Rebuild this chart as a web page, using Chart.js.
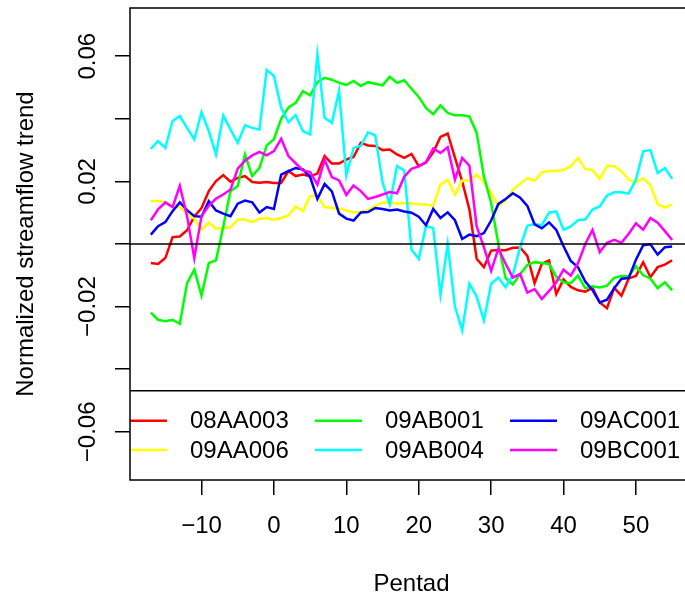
<!DOCTYPE html>
<html><head><meta charset="utf-8">
<script src="https://cdn.jsdelivr.net/npm/chart.js@4"></script>
<style>
html,body{margin:0;padding:0;background:#fff;overflow:hidden;width:685px;height:600px}
#wrap{width:720px;height:600px;position:relative}
canvas{display:block}
</style></head>
<body><div id="wrap"><canvas id="c" width="720" height="600"></canvas></div>
<script>
// Pentads (x categories)
const pentads = [-17,-16,-15,-14,-13,-12,-11,-10,-9,-8,-7,-6,-5,-4,-3,-2,-1,0,1,2,3,4,5,6,7,8,9,10,11,12,13,14,15,16,17,18,19,20,21,22,23,24,25,26,27,28,29,30,31,32,33,34,35,36,37,38,39,40,41,42,43,44,45,46,47,48,49,50,51,52,53,54,55];

const s08AA003 = [-0.0061,-0.0064,-0.0045,0.0022,0.0024,0.0044,0.0088,0.0115,0.0169,0.0201,0.0220,0.0199,0.0211,0.0217,0.0198,0.0196,0.0198,0.0195,0.0195,0.0233,0.0217,0.0222,0.0217,0.0225,0.0281,0.0257,0.0257,0.0270,0.0278,0.0323,0.0315,0.0313,0.0300,0.0302,0.0286,0.0275,0.0288,0.0249,0.0260,0.0293,0.0342,0.0353,0.0276,0.0200,0.0110,-0.0047,-0.0074,-0.0021,-0.0019,-0.0020,-0.0012,-0.0011,-0.0038,-0.0125,-0.0063,-0.0053,-0.0160,-0.0113,-0.0137,-0.0148,-0.0152,-0.0140,-0.0187,-0.0205,-0.0140,-0.0165,-0.0110,-0.0102,-0.0058,-0.0106,-0.0074,-0.0066,-0.0052];

const s09AA006 = [0.0137,0.0137,0.0133,0.0122,0.0117,0.0099,0.0081,0.0045,0.0069,0.0049,0.0051,0.0053,0.0078,0.0078,0.0070,0.0081,0.0083,0.0077,0.0083,0.0091,0.0120,0.0105,0.0153,0.0153,0.0118,0.0115,0.0113,0.0107,0.0101,0.0102,0.0108,0.0122,0.0132,0.0133,0.0129,0.0131,0.0129,0.0127,0.0126,0.0122,0.0190,0.0205,0.0157,0.0203,0.0203,0.0222,0.0198,0.0164,0.0121,0.0139,0.0173,0.0192,0.0211,0.0202,0.0229,0.0233,0.0233,0.0237,0.0248,0.0275,0.0240,0.0236,0.0208,0.0249,0.0249,0.0233,0.0206,0.0196,0.0210,0.0188,0.0127,0.0116,0.0126];

const s09AB001 = [-0.0219,-0.0242,-0.0247,-0.0242,-0.0255,-0.0125,-0.0082,-0.0165,-0.0061,-0.0052,0.0055,0.0169,0.0185,0.0286,0.0217,0.0243,0.0315,0.0335,0.0400,0.0436,0.0451,0.0488,0.0475,0.0517,0.0531,0.0525,0.0515,0.0508,0.0521,0.0505,0.0517,0.0512,0.0507,0.0534,0.0515,0.0523,0.0496,0.0470,0.0435,0.0415,0.0443,0.0419,0.0411,0.0411,0.0408,0.0355,0.0216,0.0131,0.0000,-0.0109,-0.0129,-0.0097,-0.0067,-0.0058,-0.0061,-0.0064,-0.0105,-0.0122,-0.0125,-0.0101,-0.0141,-0.0135,-0.0139,-0.0133,-0.0108,-0.0102,-0.0103,-0.0071,-0.0100,-0.0110,-0.0141,-0.0122,-0.0148];

const s09AB004 = [0.0304,0.0329,0.0307,0.0393,0.0409,0.0371,0.0334,0.0421,0.0361,0.0286,0.0411,0.0366,0.0323,0.0379,0.0371,0.0366,0.0556,0.0537,0.0435,0.0389,0.0412,0.0361,0.0350,0.0606,0.0403,0.0387,0.0489,0.0219,0.0307,0.0313,0.0357,0.0347,0.0197,0.0127,0.0249,0.0235,-0.0018,-0.0048,0.0057,0.0051,-0.0162,0.0000,-0.0200,-0.0276,-0.0127,-0.0168,-0.0244,-0.0127,-0.0107,-0.0138,-0.0098,-0.0010,0.0058,0.0064,0.0060,0.0100,0.0104,0.0045,0.0056,0.0076,0.0078,0.0110,0.0120,0.0155,0.0165,0.0165,0.0161,0.0206,0.0296,0.0300,0.0227,0.0243,0.0208];

const s09AC001 = [0.0030,0.0057,0.0070,0.0105,0.0133,0.0108,0.0089,0.0087,0.0137,0.0107,0.0097,0.0089,0.0129,0.0139,0.0133,0.0101,0.0118,0.0112,0.0222,0.0233,0.0243,0.0238,0.0214,0.0144,0.0192,0.0168,0.0097,0.0081,0.0075,0.0101,0.0102,0.0115,0.0112,0.0107,0.0110,0.0104,0.0100,0.0087,0.0060,0.0112,0.0083,0.0101,0.0076,0.0016,0.0030,0.0025,0.0035,0.0075,0.0128,0.0144,0.0162,0.0148,0.0122,0.0063,0.0050,0.0069,0.0045,-0.0007,-0.0054,-0.0074,-0.0120,-0.0147,-0.0187,-0.0178,-0.0141,-0.0111,-0.0109,-0.0050,-0.0004,-0.0001,-0.0034,-0.0010,-0.0008];

const s09BC001 = [0.0076,0.0111,0.0133,0.0118,0.0186,0.0089,-0.0045,0.0089,0.0122,0.0145,0.0158,0.0174,0.0241,0.0266,0.0283,0.0294,0.0283,0.0297,0.0336,0.0281,0.0258,0.0235,0.0230,0.0190,0.0269,0.0214,0.0203,0.0157,0.0187,0.0169,0.0144,0.0150,0.0158,0.0166,0.0162,0.0215,0.0240,0.0248,0.0262,0.0305,0.0291,0.0309,0.0206,0.0275,0.0250,0.0056,-0.0010,-0.0086,-0.0015,-0.0063,-0.0107,-0.0096,-0.0155,-0.0144,-0.0176,-0.0150,-0.0122,-0.0082,-0.0101,-0.0061,0.0000,0.0045,-0.0026,0.0004,0.0013,0.0004,0.0033,0.0066,0.0046,0.0083,0.0068,0.0041,0.0013];

const seriesNames = ['08AA003','09AA006','09AB001','09AB004','09AC001','09BC001'];
const seriesValues = [s08AA003, s09AA006, s09AB001, s09AB004, s09AC001, s09BC001];
const seriesColors = ['#FF0000','#FFFF00','#00FF00','#00FFFF','#0000FF','#FF00FF'];

const xTickValues = [-10,0,10,20,30,40,50];
const yTickValues = [-0.06,-0.04,-0.02,0,0.02,0.04,0.06];
const yLabelValues = [-0.06,-0.02,0.02,0.06];

const FONT = "'Liberation Sans', Arial, Helvetica, sans-serif";
Chart.defaults.font.family = FONT;
Chart.defaults.color = '#000';

function fmt(v){
  const s = String(Math.abs(v));
  return v < 0 ? '\u2212' + s : s;
}

const decorPlugin = {
  id: 'decor',
  afterDatasetsDraw(chart){
    const ctx = chart.ctx;
    const a = chart.chartArea;
    const ys = chart.scales.y;
    ctx.save();
    // zero line
    ctx.strokeStyle = '#000';
    ctx.lineWidth = 1.5;
    const y0 = ys.getPixelForValue(0);
    ctx.beginPath(); ctx.moveTo(a.left, y0); ctx.lineTo(a.right, y0); ctx.stroke();
    // legend
    const legTop = 390.7;
    ctx.fillStyle = '#fff';
    ctx.fillRect(a.left, legTop, a.right - a.left, a.bottom - legTop);
    ctx.beginPath(); ctx.moveTo(a.left, legTop); ctx.lineTo(a.right, legTop); ctx.stroke();
    ctx.beginPath(); ctx.rect(a.left, a.top, a.right - a.left, a.bottom - a.top); ctx.clip();
    ctx.font = '24px ' + FONT;
    ctx.textBaseline = 'middle';
    ctx.textAlign = 'left';
    const rowsY = [420.7, 450];
    chart.data.datasets.forEach((ds, i) => {
      const col = Math.floor(i / 2), row = i % 2;
      const lx = a.left - 10 + 195 * col;
      const yy = rowsY[row];
      ctx.strokeStyle = ds.borderColor;
      ctx.lineWidth = 2.4;
      ctx.beginPath(); ctx.moveTo(lx, yy); ctx.lineTo(lx + 47, yy); ctx.stroke();
      ctx.fillStyle = '#000';
      ctx.fillText(ds.label, lx + 70, yy + 1);
    });
    ctx.restore();
    // box
    ctx.save();
    ctx.strokeStyle = '#000';
    ctx.lineWidth = 1.5;
    ctx.strokeRect(a.left, a.top, a.right - a.left, a.bottom - a.top);
    // y tick labels rotated
    ctx.fillStyle = '#000';
    ctx.font = '24px ' + FONT;
    ctx.textAlign = 'center';
    ctx.textBaseline = 'alphabetic';
    yLabelValues.forEach(v => {
      const py = ys.getPixelForValue(v);
      ctx.save();
      ctx.translate(95, py);
      ctx.rotate(-Math.PI / 2);
      ctx.fillText(fmt(v), 0, 0);
      ctx.restore();
    });
    ctx.restore();
  }
};

const gridOpts = {
  display: true, drawOnChartArea: false, drawTicks: true, tickLength: 15,
  color: '#000', lineWidth: 1.5, tickColor: '#000', tickWidth: 1.5
};

new Chart(document.getElementById('c'), {
  type: 'line',
  data: {
    datasets: seriesNames.map((name, i) => ({
      label: name,
      data: pentads.map((p, k) => ({x: p, y: seriesValues[i][k]})),
      borderColor: seriesColors[i],
      backgroundColor: seriesColors[i],
      borderWidth: 2.5,
      pointRadius: 0,
      tension: 0,
      fill: false,
      order: 6 - i
    }))
  },
  options: {
    responsive: false,
    animation: false,
    devicePixelRatio: 1,
    layout: {padding: {top: 8, right: 27, left: 0, bottom: 0}},
    plugins: {legend: {display: false}, tooltip: {enabled: false}},
    scales: {
      x: {
        type: 'linear', min: -19.88, max: 57.88,
        afterBuildTicks: s => { s.ticks = xTickValues.map(v => ({value: v})); },
        afterFit: s => { s.height = 120; },
        grid: gridOpts,
        border: {display: false},
        ticks: {font: {size: 24}, padding: 17, maxRotation: 0, autoSkip: false, callback: v => fmt(v), color: '#000'},
        title: {display: true, text: 'Pentad', font: {size: 24}, color: '#000', padding: {top: 0, bottom: 1}}
      },
      y: {
        type: 'linear', min: -0.0754, max: 0.0754,
        afterBuildTicks: s => { s.ticks = yTickValues.map(v => ({value: v})); },
        afterFit: s => { s.width = 130; },
        grid: gridOpts,
        border: {display: false},
        ticks: {display: false},
        title: {display: true, text: 'Normalized streamflow trend', font: {size: 24}, color: '#000', padding: {top: 12, bottom: 0}}
      }
    }
  },
  plugins: [decorPlugin]
});
</script>
</body></html>
